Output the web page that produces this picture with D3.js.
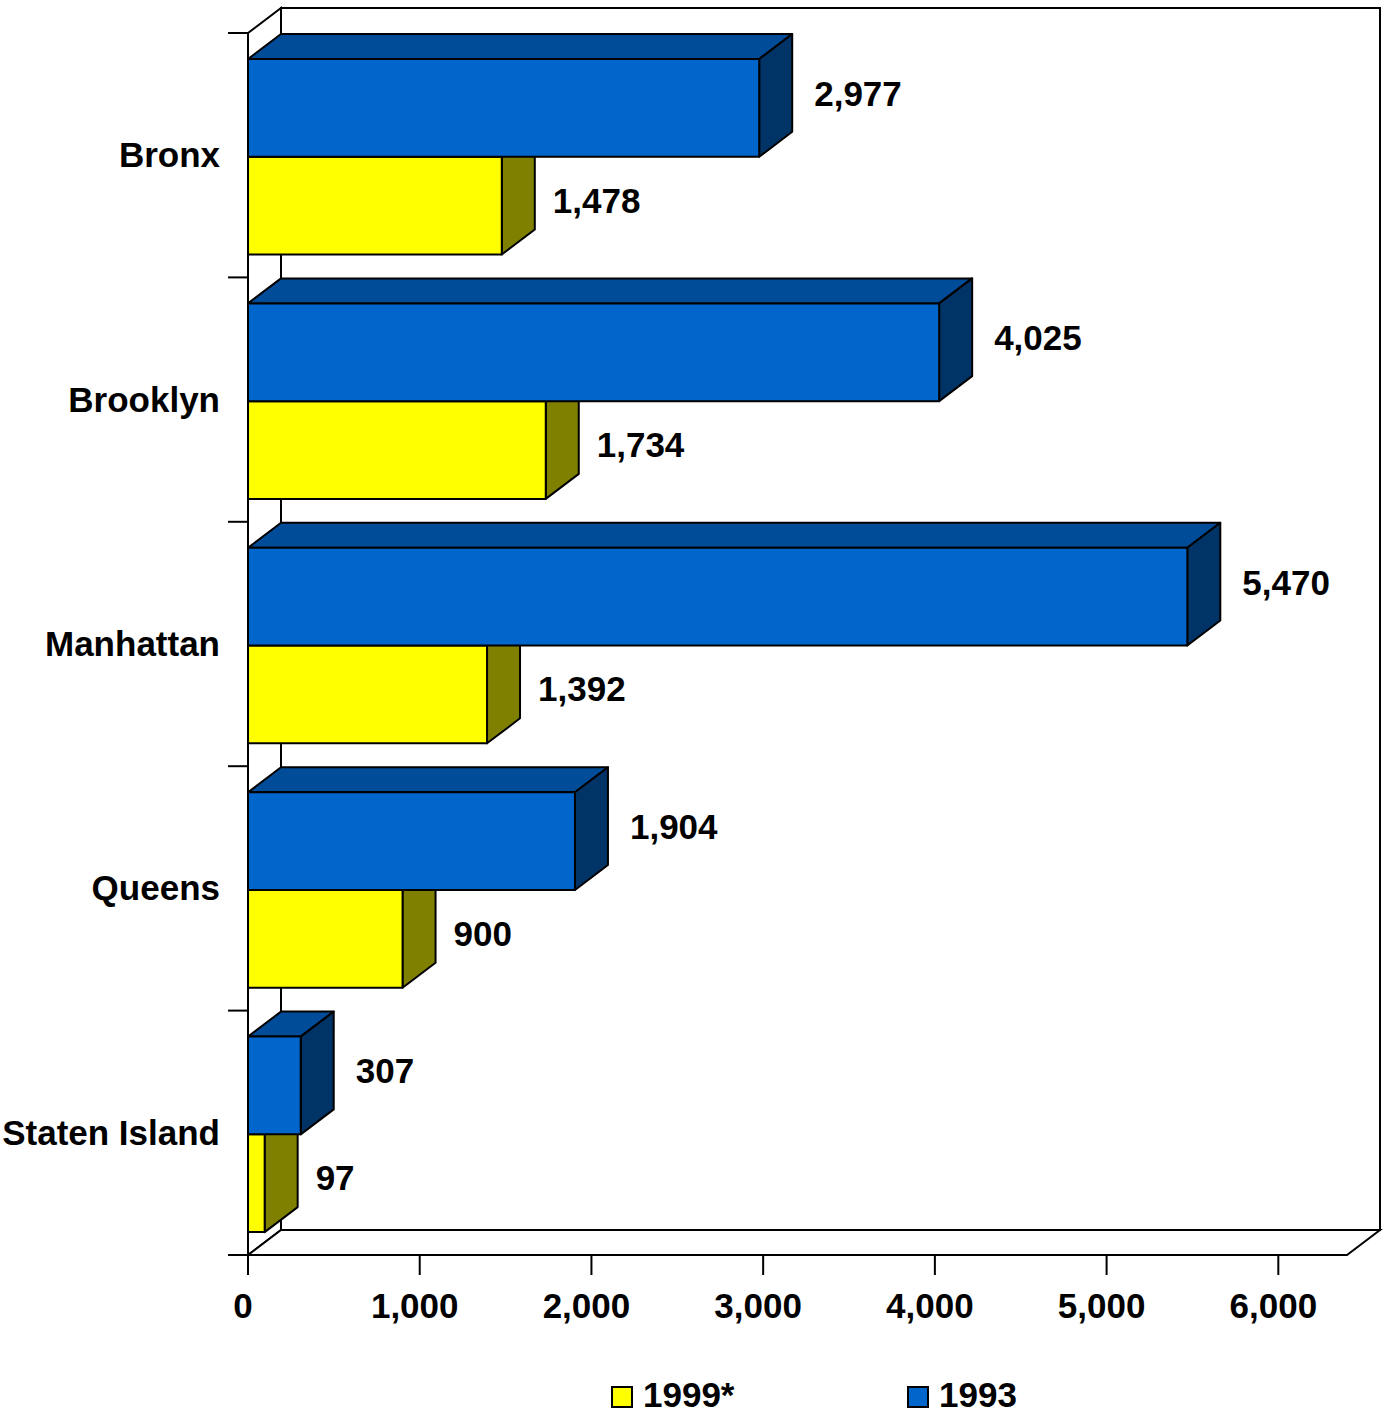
<!DOCTYPE html>
<html>
<head>
<meta charset="utf-8">
<script src="https://cdn.jsdelivr.net/npm/d3@7"></script>
<style>
  body { margin: 0; background: #fff; }
  svg { display: block; }
  text { font-family: "Liberation Sans", Arial, sans-serif; font-weight: bold; fill: #000; }
</style>
</head>
<body>
<svg id="chart" width="1386" height="1413"></svg>
<script>
const categories = ["Bronx", "Brooklyn", "Manhattan", "Queens", "Staten Island"];
const values1993 = [2977, 4025, 5470, 1904, 307];
const values1999 = [1478, 1734, 1392, 900, 97];
const seriesNames = ["1999*", "1993"];
const xTicks = [0, 1000, 2000, 3000, 4000, 5000, 6000];

const svg = d3.select("#chart");
const dx = 33, dy = 25;
const FS = 35;
const x = d3.scaleLinear().domain([0, 6400]).range([248, 1347]);
const y = d3.scaleBand().domain(categories).range([33, 1255]).paddingInner(0).paddingOuter(0);
const bh = y.bandwidth() * 0.4;
const fmt = d3.format(",");

const x0 = x(0), xMax = x(6400), yTop = y.range()[0], yBot = y.range()[1];

// walls
const walls = svg.append("g").attr("fill", "#fff").attr("stroke", "#000").attr("stroke-width", 2).attr("stroke-linejoin", "miter");
walls.append("rect").attr("x", x0 + dx).attr("y", yTop - dy).attr("width", xMax - x0).attr("height", yBot - yTop);
walls.append("polygon").attr("points", [[x0, yTop], [x0 + dx, yTop - dy], [x0 + dx, yBot - dy], [x0, yBot]].join(" "));
walls.append("polygon").attr("points", [[x0, yBot], [x0 + dx, yBot - dy], [xMax + dx, yBot - dy], [xMax, yBot]].join(" "));

// y ticks
const yTickPos = categories.map(c => y(c)).concat([yBot]);
svg.append("g").selectAll("line").data(yTickPos).join("line")
  .attr("x1", x0 - 20).attr("x2", x0).attr("y1", d => d).attr("y2", d => d)
  .attr("stroke", "#000").attr("stroke-width", 2);
svg.append("line").attr("x1", x0).attr("x2", x0).attr("y1", yTop).attr("y2", yBot).attr("stroke", "#000").attr("stroke-width", 2);

// x axis ticks & labels
svg.append("g").selectAll("line").data(xTicks).join("line")
  .attr("x1", d => x(d)).attr("x2", d => x(d)).attr("y1", yBot).attr("y2", yBot + 20)
  .attr("stroke", "#000").attr("stroke-width", 2);
svg.append("g").selectAll("text").data(xTicks).join("text")
  .attr("x", d => x(d) - 5).attr("y", 1318).attr("text-anchor", "middle")
  .attr("font-size", FS).text(d => fmt(d));

// category labels
svg.append("g").selectAll("text").data(categories).join("text")
  .attr("x", 220).attr("y", d => y(d) + y.bandwidth() / 2 + 12)
  .attr("text-anchor", "end").attr("font-size", FS).text(d => d);

// bars
function drawBar(g, v, yy, cols) {
  const x1 = x(v);
  g.append("polygon").attr("points", [[x0, yy], [x0 + dx, yy - dy], [x1 + dx, yy - dy], [x1, yy]].join(" ")).attr("fill", cols.top);
  g.append("polygon").attr("points", [[x1, yy], [x1 + dx, yy - dy], [x1 + dx, yy + bh - dy], [x1, yy + bh]].join(" ")).attr("fill", cols.side);
  g.append("rect").attr("x", x0).attr("y", yy).attr("width", x1 - x0).attr("height", bh).attr("fill", cols.front);
}
const yellow = { front: "#FFFF00", side: "#808000", top: "#CCCC00" };
const blue = { front: "#0066CC", side: "#003366", top: "#004C99" };
const bars = svg.append("g").attr("stroke", "#000").attr("stroke-width", 2).attr("stroke-linejoin", "round");
categories.forEach((c, i) => {
  const yb = y(c) + dy + 1;
  drawBar(bars, values1999[i], yb + bh, yellow);
  drawBar(bars, values1993[i], yb, blue);
});

// value labels
const labels = svg.append("g").attr("font-size", FS);
categories.forEach((c, i) => {
  const yb = y(c) + dy + 1;
  labels.append("text").attr("x", x(values1993[i]) + dx + 22).attr("y", yb + bh / 2 - 14 + 12).text(fmt(values1993[i]));
  labels.append("text").attr("x", x(values1999[i]) + dx + 18).attr("y", yb + bh * 1.5 - 5 + 12).text(fmt(values1999[i]));
});

// legend
const legend = svg.append("g");
[[612, yellow.front, seriesNames[0]], [908, blue.front, seriesNames[1]]].forEach(([lx, col, name]) => {
  legend.append("rect").attr("x", lx).attr("y", 1387).attr("width", 20).attr("height", 20)
    .attr("fill", col).attr("stroke", "#000").attr("stroke-width", 2);
  legend.append("text").attr("x", lx + 31).attr("y", 1407).attr("font-size", FS).text(name);
});
</script>
</body>
</html>
